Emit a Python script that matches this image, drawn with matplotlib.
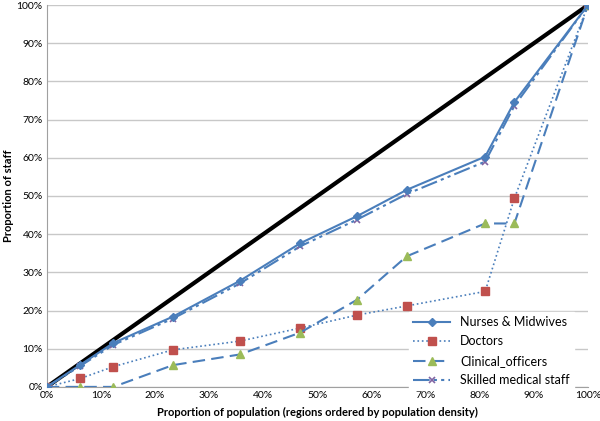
import matplotlib.pyplot as plt
from matplotlib.ticker import PercentFormatter

plt.rcParams['font.family'] = ['Lato', 'DejaVu Sans']

# proportion of population (regions ordered by population density), %
population = [0, 6.2, 12.3, 23.3, 35.7, 46.8, 57.3, 66.5, 81.0, 86.4, 100]

# proportion of staff, %
nurses = [0, 5.8, 11.5, 18.4, 27.8, 37.6, 44.7, 51.6, 60.3, 74.6, 100]
doctors = [0, 2.2, 5.3, 9.7, 12.0, 15.4, 18.8, 21.2, 25.0, 49.4, 100]
clinical = [0, 0, 0, 5.7, 8.5, 14.2, 22.8, 34.2, 42.8, 42.8, 100]
skilled = [0, 5.5, 11.0, 17.9, 27.1, 36.8, 43.8, 50.5, 59.0, 73.6, 100]

equality = [0, 100]

blue = "#4A7EBB"

fig = plt.figure(figsize=(6, 4.21), dpi=100)
ax = fig.add_axes([0.078, 0.081, 0.902, 0.907])

ax.plot(equality, equality, color="black", lw=3, zorder=2)

ax.plot(population, nurses, color=blue, lw=1.5, ls="-", marker="D", ms=4,
        mfc=blue, mec=blue, label="Nurses & Midwives", zorder=4)
ax.plot(population, doctors, color=blue, lw=1.2, ls=":", marker="s", ms=6,
        mfc="#C0504D", mec="#C0504D", label="Doctors", zorder=3)
ax.plot(population, clinical, color=blue, lw=1.5, ls=(0, (6, 3)), marker="^", ms=6,
        mfc="#9BBB59", mec="#9BBB59", label="Clinical_officers", zorder=3)
ax.plot(population, skilled, color=blue, lw=1.5, ls=(0, (8, 2, 1.5, 2, 1.5, 2)),
        marker="x", ms=5, mew=1.2, mec="#8064A2", label="Skilled medical staff", zorder=3)

ax.set_xlim(0, 100)
ax.set_ylim(0, 100)
ax.set_xticks(range(0, 101, 10))
ax.set_yticks(range(0, 101, 10))
ax.xaxis.set_major_formatter(PercentFormatter(decimals=0))
ax.yaxis.set_major_formatter(PercentFormatter(decimals=0))
ax.tick_params(labelsize=7.5, length=0, pad=3)

ax.grid(axis="y", color="#C8C8C8", lw=1)
ax.set_axisbelow(True)
for side in ["top", "right"]:
    ax.spines[side].set_visible(False)
for side in ["left", "bottom"]:
    ax.spines[side].set_color("#A0A0A0")

ax.set_xlabel("Proportion of population (regions ordered by population density)",
              fontsize=8, fontweight="bold", labelpad=5)
ax.set_ylabel("Proportion of staff", fontsize=8, fontweight="bold", labelpad=2)

leg = ax.legend(loc="lower right", bbox_to_anchor=(0.985, -0.025), fontsize=9,
                frameon=True, framealpha=1, edgecolor="white", fancybox=False,
                handlelength=3.0, labelspacing=0.6, borderpad=0.3)

fig.savefig("out.png", dpi=100)
